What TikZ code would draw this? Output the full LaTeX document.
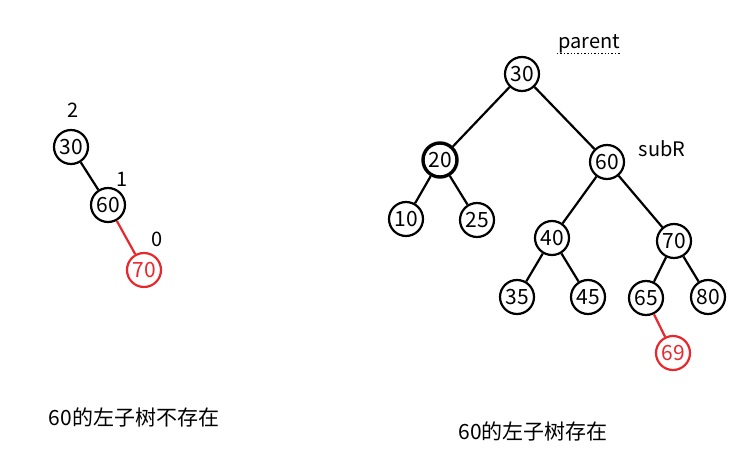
\documentclass[tikz,border=0pt]{standalone}
\usepackage{fontspec}
\setmainfont{Noto Sans CJK SC}
\usetikzlibrary{positioning}
\definecolor{hred}{RGB}{232,40,45}
\tikzset{
  nd/.style={draw, circle, line width=2.2pt, minimum size=34pt, inner sep=0pt, font=\fontsize{21}{21}\selectfont},
  rnd/.style={nd, draw=hred, text=hred},
  tnd/.style={nd, line width=3.4pt},
  edg/.style={line width=2.2pt},
  redg/.style={line width=2.2pt, draw=hred},
  lbl/.style={font=\fontsize{20}{20}\selectfont, inner sep=1pt},
  capn/.style={font=\fontsize{21}{21}\selectfont, inner sep=1pt},
}

\begin{document}
\begin{tikzpicture}[x=1pt, y=-1pt]
\useasboundingbox (0,0) rectangle (741,457);
% left tree
\node[nd] (la) at (71,147) {30};
\node[nd] (lb) at (108,205) {60};
\node[rnd] (lc) at (144,270) {70};
\draw[edg] (la) -- (lb);
\draw[redg] (lb) -- (lc);
\node[lbl] (ha) at (73,110) {2};
\node[lbl] (hb) at (122,179) {1};
\node[lbl] (hc) at (157,239) {0};
\node[capn] (capl) at (134,417) {60的左子树不存在};
% right tree
\node[nd] (r30) at (522,74) {30};
\node[tnd] (r20) at (440,160) {20};
\node[nd] (r60) at (607,162) {60};
\node[nd] (r10) at (406,219) {10};
\node[nd] (r25) at (477,220) {25};
\node[nd] (r40) at (552,238) {40};
\node[nd] (r70) at (674,241) {70};
\node[nd] (r35) at (517,297) {35};
\node[nd] (r45) at (588,297) {45};
\node[nd] (r65) at (646,298) {65};
\node[nd] (r80) at (708,297) {80};
\node[rnd] (r69) at (673,353) {69};
\draw[edg] (r30) -- (r20);
\draw[edg] (r30) -- (r60);
\draw[edg] (r20) -- (r10);
\draw[edg] (r20) -- (r25);
\draw[edg] (r60) -- (r40);
\draw[edg] (r60) -- (r70);
\draw[edg] (r40) -- (r35);
\draw[edg] (r40) -- (r45);
\draw[edg] (r70) -- (r65);
\draw[edg] (r70) -- (r80);
\draw[redg] (r65) -- (r69);
\node[lbl] (par) at (589,44) {parent};
\draw[dotted, line width=1.4pt] ([yshift=1pt]par.south west) -- ([yshift=1pt]par.south east);
\node[lbl] (sub) at (662,149) {subR};
\node[capn] (capr) at (533,431) {60的左子树存在};
\end{tikzpicture}
\end{document}
